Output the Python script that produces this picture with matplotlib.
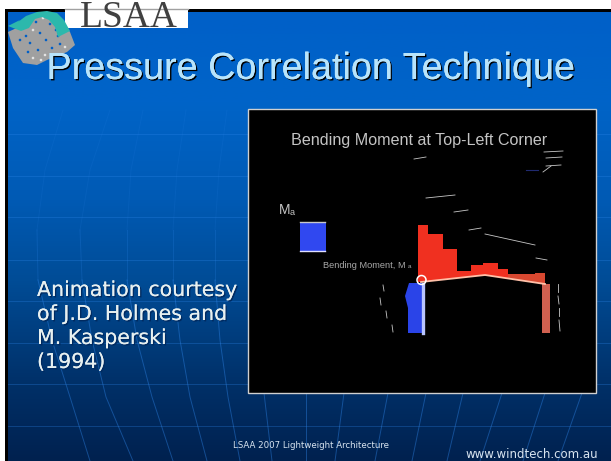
import matplotlib
matplotlib.use("Agg")
import matplotlib.pyplot as plt
from matplotlib.colors import LinearSegmentedColormap
from matplotlib.patches import Rectangle, Circle, Polygon
import matplotlib.patheffects as pe
import numpy as np

# all positions are in picture pixels
title = "Pressure Correlation Technique"
caption = ["Animation courtesy", "of J.D. Holmes and", "M. Kasperski", "(1994)"]
caption_y = [290, 314, 338, 362]
footer = "LSAA 2007 Lightweight Architecture"
website = "www.windtech.com.au"

# red moment diagram along the roof, steps
red_left = [418, 428, 443, 457, 471, 483, 498, 508, 535]
red_right = [428, 443, 457, 471, 483, 498, 508, 535, 545]
red_top = [225, 234, 249, 271, 265, 263, 269, 274, 273]
roof_x = [421, 485, 545]
roof_y = [282, 275, 284]

# blue column profile on the left wall
blue_x = [409, 405, 408, 408]
blue_y = [283, 296, 308, 333]

# little white dashes (x0, x1, y0, y1)
dash_x0 = [414, 426, 454, 469, 485, 536, 383, 380, 386, 392, 558, 558, 559, 559, 544, 546, 543, 546]
dash_x1 = [426, 455, 468, 481, 535, 547, 384, 381, 387, 393, 558, 559, 559, 560, 563, 562, 551, 561]
dash_y0 = [159, 198, 212, 230, 234, 258, 285, 298, 311, 325, 284, 296, 308, 320, 152, 158, 172, 166]
dash_y1 = [157, 195, 210, 228, 245, 260, 291, 305, 318, 332, 292, 304, 316, 331, 151, 157, 166, 165]

# background grid of the slide
parallel_y = [134, 176, 217, 260, 301, 343, 384, 426]
meridian_y = [110, 170, 230, 280, 340, 397, 461]
meridian_1 = [63, 45, 37, 38, 52, 70, 90]
meridian_2 = [110, 90, 80, 82, 92, 106, 133]
meridian_3 = [143, 131, 127, 127, 137, 152, 173]
meridian_4 = [186, 177, 173, 173, 180, 190, 207]
meridian_5 = [227, 219, 215, 215, 220, 228, 240]
lower_y = [393, 461]
lower_x0 = [264, 306, 344, 388, 426, 463, 502, 545, 582]
lower_x1 = [272, 306, 335, 375, 412, 447, 480, 523, 558]

# logo outlines
land_x = [8, 13, 23, 37, 47, 67, 75, 70, 60, 47, 33, 23]
land_y = [32, 48, 63, 65, 60, 52, 45, 32, 18, 12, 15, 25]
land_spot_x = [33, 40, 30, 46, 52, 38, 60, 26, 45, 56, 36, 43, 20, 50, 33, 58, 41, 28, 65, 54]
land_spot_y = [30, 33, 43, 40, 48, 50, 44, 36, 55, 30, 22, 18, 40, 24, 58, 36, 60, 52, 47, 55]
arc_x = [8, 20, 18, 26, 37, 47, 57, 64, 70, 58, 55, 49, 42, 35, 29, 21]
arc_y = [26, 20, 22, 16, 12, 11, 13, 20, 31, 37, 27, 20, 17, 19, 28, 31]

fig = plt.figure(figsize=(6.11, 4.61), dpi=100, facecolor="white")
ax = fig.add_axes([0, 0, 1, 1])

# slide background
cmap = LinearSegmentedColormap.from_list("slide", [(0, "#0060c8"), (0.2, "#0064c8"), (0.42, "#005ab4"),
                                                   (0.6, "#004c96"), (0.83, "#003068"), (1, "#00214f")])
grad = np.linspace(0, 1, 256).reshape(-1, 1)
ax.imshow(grad, cmap=cmap, extent=[7, 611, 461, 12], aspect="auto", zorder=0)
ax.set_xlim(0, 611)
ax.set_ylim(461, 0)
ax.axis("off")
ax.add_patch(Rectangle((5, 9), 606, 3, fc="black", ec="none", zorder=1))
ax.add_patch(Rectangle((5, 9), 3, 452, fc="black", ec="none", zorder=1))

# grid lines, fainter higher up as on the slide
for y in parallel_y:
    ax.plot([8, 611], [y, y], color="#2f86ea", lw=0.7, alpha=0.3, zorder=1)
for mx in [meridian_1, meridian_2, meridian_3, meridian_4, meridian_5]:
    ax.plot(mx[:3], meridian_y[:3], color="#2f86ea", lw=0.7, alpha=0.12, zorder=1)
    ax.plot(mx[2:4], meridian_y[2:4], color="#2f86ea", lw=0.7, alpha=0.22, zorder=1)
    ax.plot(mx[3:], meridian_y[3:], color="#2f86ea", lw=0.7, alpha=0.42, zorder=1)
for x0, x1 in zip(lower_x0, lower_x1):
    ax.plot([x0, x1], lower_y, color="#2f86ea", lw=0.7, alpha=0.42, zorder=1)

# logo
ax.add_patch(Rectangle((65, 9), 123, 19, fc="white", ec="none", zorder=2))
ax.plot([65, 188], [9.5, 9.5], color="#a0a0a0", lw=1, zorder=2)
logo = ax.text(80, 27, "LSAA", family="Liberation Serif", fontsize=27, color="#404040", va="baseline", zorder=3)
logo.set_clip_path(Rectangle((65, 10), 123, 18, transform=ax.transData))
ax.add_patch(Polygon(list(zip(land_x, land_y)), fc="#a0a0a0", ec="none", zorder=3))
for sx, sy in zip(land_spot_x, land_spot_y):
    ax.add_patch(Circle((sx, sy), 1.3, fc="#0060c8" if sx % 2 == 0 else "#e4e4e4", ec="none", zorder=4))
ax.add_patch(Polygon(list(zip(arc_x, arc_y)), fc="#2cb8ac", ec="none", zorder=5))

# title with shadow
ax.text(311, 69, title, family="Liberation Sans", fontsize=27.2, color="#b8e4fb", ha="center", va="center", zorder=6,
        path_effects=[pe.withSimplePatchShadow(offset=(1, -1), shadow_rgbFace="black", alpha=1), pe.Normal()])

# caption
for line, y in zip(caption, caption_y):
    ax.text(37, y, line, family="DejaVu Sans", fontsize=14.8, color="#e8f0f0", va="center", zorder=6,
            path_effects=[pe.withSimplePatchShadow(offset=(1, -1), shadow_rgbFace="#002a60", alpha=1), pe.Normal()])

# video panel
ax.add_patch(Rectangle((248, 109), 348, 284, fc="black", ec="#d0d0d0", lw=1, zorder=6))

ax.text(419, 140, "Bending Moment at Top-Left Corner", family="Liberation Sans", fontsize=11.6, color="#c4c4c4",
        ha="center", va="center", zorder=7)
ax.text(279, 210, "M", family="Liberation Sans", fontsize=10, color="#c4c4c4", va="center", zorder=7)
ax.text(290, 212, "a", family="Liberation Sans", fontsize=6.5, color="#c4c4c4", va="center", zorder=7)
ax.text(323, 265, "Bending Moment, M", family="Liberation Sans", fontsize=6.7, color="#a8a8a8", va="center", zorder=7)
ax.text(408, 266, "a", family="Liberation Sans", fontsize=4.5, color="#a8a8a8", va="center", zorder=7)

# Ma square
ax.add_patch(Rectangle((300, 223), 25.5, 28, fc="#3048f0", ec="none", zorder=7))
ax.plot([300, 325], [222, 222], color="#c8c8c8", lw=1, zorder=8)
ax.plot([300, 325], [250.5, 250.5], color="#e0e0ff", lw=1, zorder=8)

# red steps
for left, right, top in zip(red_left, red_right, red_top):
    bottom = np.interp([left, right], roof_x, roof_y)
    ax.add_patch(Polygon([[left, top], [right, top], [right, bottom[1]], [left, bottom[0]]],
                         fc="#f03020" if left < 500 else "#d84830", ec="none", zorder=7))
ax.plot(roof_x, roof_y, color="#ffc0a8", lw=1.3, zorder=8)

# wall columns
ax.add_patch(Polygon(list(zip(blue_x, blue_y)) + [(425, 333), (425, 283)], fc="#2a44e8", ec="none", zorder=7))
ax.plot([423, 423], [284, 333], color="#b8c4ff", lw=2.4, zorder=8)
ax.add_patch(Rectangle((542, 284), 8, 49, fc="#d06050", ec="none", zorder=7))
ax.add_patch(Circle((421.5, 280), 4.5, fc="none", ec="white", lw=1.1, zorder=9))

# scale dashes
for x0, x1, y0, y1 in zip(dash_x0, dash_x1, dash_y0, dash_y1):
    ax.plot([x0, x1], [y0, y1], color="#c8c8c8", lw=0.6, zorder=7)
ax.plot([526, 538], [170, 170], color="#202a70", lw=0.8, zorder=7)

# footer
ax.text(311, 445, footer, family="DejaVu Sans", fontsize=6.2, color="#d8e4f0", ha="center", va="center", zorder=6)
ax.text(466, 460.5, website, family="DejaVu Sans", fontsize=8.5, color="#d8e4f0", va="bottom", zorder=6)

fig.savefig("out.png", dpi=100)
